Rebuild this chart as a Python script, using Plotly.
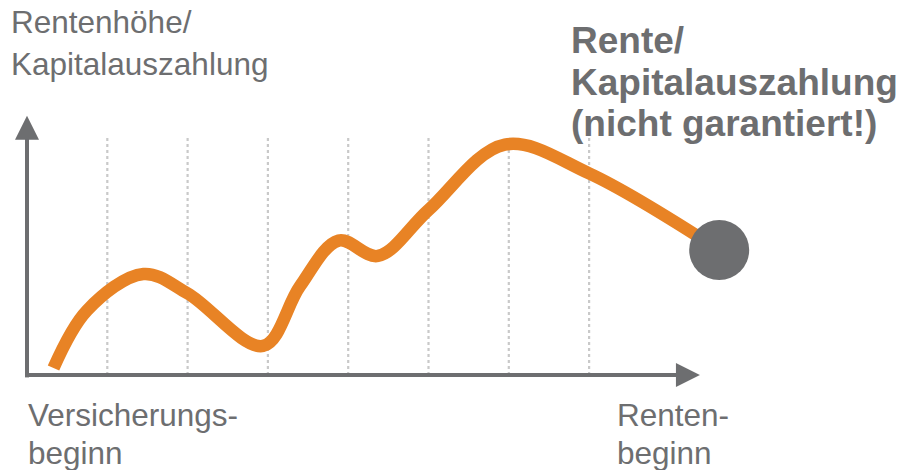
import plotly.graph_objects as go

# Data (x: time steps, gridlines at 1..7; y: value)
curve_x = [0.33, 0.75, 1.45, 2.0, 2.94, 3.40, 3.88, 4.37, 5.0, 5.95, 7.0]
curve_y = [2.9, 27.0, 42.1, 34.0, 12.1, 37.0, 56.0, 49.6, 68.75, 96.0, 84.0]
end_x = [8.62]
end_y = [52.1]
grid_x = [1, 2, 3, 4, 5, 6, 7]
y_label_lines = ["Rentenhöhe/", "Kapitalauszahlung"]
end_label_lines = ["Rente/", "Kapitalauszahlung", "(nicht garantiert!)"]
start_tick_lines = ["Versicherungs-", "beginn"]
end_tick_lines = ["Renten-", "beginn"]

ORANGE = "#E88325"
GRAY = "#6D6E70"
W, H = 904, 470
PX_PER_X = 80.3
PX_PER_Y = 2.4
X0_PX, Y0_PX = 27, 375

xr = [(0 - X0_PX) / PX_PER_X, (W - X0_PX) / PX_PER_X]
yr = [(Y0_PX - H) / PX_PER_Y, Y0_PX / PX_PER_Y]

fig = go.Figure()

# dotted gridlines
for gx in grid_x:
    fig.add_shape(type="line", x0=gx, x1=gx, y0=0, y1=100, xref="x", yref="y",
                  line=dict(color="#C9C9C9", width=2.2, dash="dot"), layer="below")

# axes
fig.add_shape(type="line", x0=0, x1=0, y0=-1, y1=100, line=dict(color=GRAY, width=4))
fig.add_shape(type="line", x0=0, x1=8.2, y0=0, y1=0, line=dict(color=GRAY, width=4))
fig.add_annotation(x=0, y=108, ax=0, ay=98, xref="x", yref="y", axref="x", ayref="y",
                   showarrow=True, arrowhead=2, arrowsize=1.2, arrowwidth=4, arrowcolor=GRAY, text="")
fig.add_annotation(x=8.38, y=0, ax=8.0, ay=0, xref="x", yref="y", axref="x", ayref="y",
                   showarrow=True, arrowhead=2, arrowsize=1.2, arrowwidth=4, arrowcolor=GRAY, text="")

# curve
fig.add_trace(go.Scatter(x=curve_x + end_x, y=curve_y + end_y, mode="lines",
                         line=dict(color=ORANGE, width=12.5, shape="spline", smoothing=1.0),
                         hoverinfo="skip"))
fig.add_trace(go.Scatter(x=end_x, y=end_y, mode="markers",
                         marker=dict(color=GRAY, size=60, line=dict(width=0)), hoverinfo="skip"))

font_reg = dict(family="Liberation Sans, Arial", size=31.5, color=GRAY)
font_bold = dict(family="Liberation Sans, Arial", size=37, color=GRAY)

def ann_lines(lines, px, centers, font, bold=False):
    for t, cy in zip(lines, centers):
        fig.add_annotation(text=f"<b>{t}</b>" if bold else t,
                           x=px / W, y=1 - cy / H, xref="paper", yref="paper",
                           xanchor="left", yanchor="middle", showarrow=False, align="left",
                           font=font, borderpad=0)

ann_lines(y_label_lines, 10, [22, 64], font_reg)
ann_lines(start_tick_lines, 27, [415, 453], font_reg)
ann_lines(end_tick_lines, 616, [415, 453], font_reg)
ann_lines(end_label_lines, 570, [41, 83, 124], font_bold, bold=True)

fig.update_layout(width=W, height=H, margin=dict(l=0, r=0, t=0, b=0),
                  paper_bgcolor="white", plot_bgcolor="white", showlegend=False,
                  xaxis=dict(range=xr, visible=False, fixedrange=True),
                  yaxis=dict(range=yr, visible=False, fixedrange=True))

fig.write_html("out.html", config={"displayModeBar": False},
               post_script="document.body.style.margin='0px';")
